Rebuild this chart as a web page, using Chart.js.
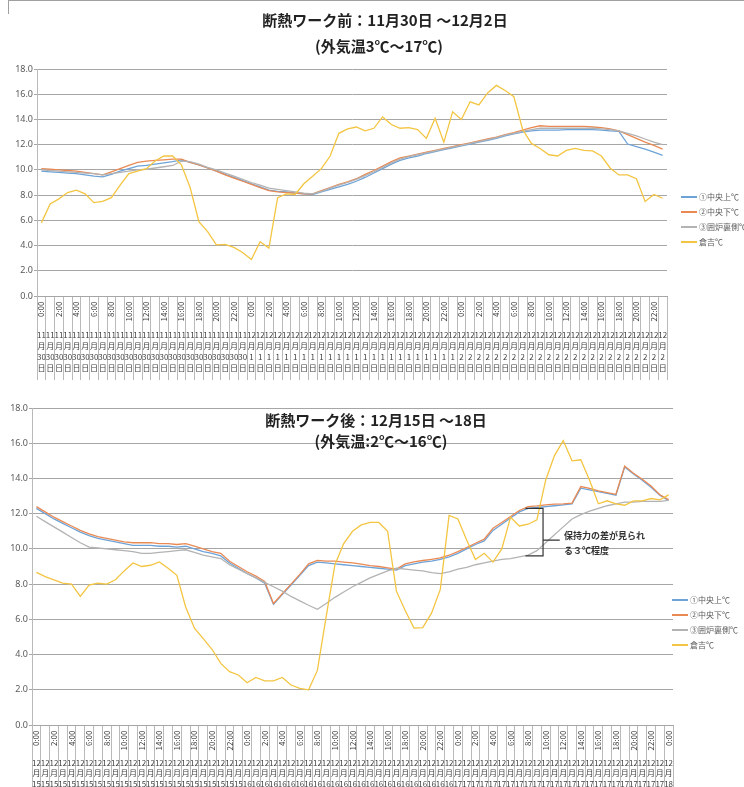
<!DOCTYPE html>
<html>
<head>
<meta charset="utf-8">
<script src="https://cdn.jsdelivr.net/npm/chart.js@4.4.0/dist/chart.umd.min.js"></script>
<style>
  html, body { margin:0; padding:0; background:#fff; overflow:hidden; width:744px; height:787px; }
  body { position:relative; font-family:"Noto Sans CJK JP", "Noto Sans", sans-serif; }
  canvas { position:absolute; left:0; }
  .title { position:absolute; font-weight:bold; font-size:15px; line-height:15px; color:#222; white-space:nowrap; transform:translateX(-50%); }
  .legend { position:absolute; font-size:8px; color:#595959; }
  .legend div { height:15px; display:flex; align-items:center; white-space:nowrap; }
  .legend span { display:inline-block; width:16px; height:2px; margin-right:2px; }
  .note { position:absolute; font-size:9px; line-height:9px; font-weight:bold; color:#333; white-space:nowrap; }
  .frame { position:absolute; border-color:#a0a0a0; border-style:solid; border-width:0; }
</style>
</head>
<body>
<div class="frame" style="left:8px;top:0;width:736px;height:13px;border-top-width:1px;border-left-width:1px;"></div>

<canvas id="before" width="744" height="390" style="top:0"></canvas>
<canvas id="after" width="744" height="425" style="top:390px"></canvas>

<div class="title" style="left:385px;top:12px">断熱ワーク前：11月30日 ～12月2日</div>
<div class="title" style="left:379px;top:38px">(外気温3℃～17℃)</div>
<div class="title" style="left:376px;top:412px">断熱ワーク後：12月15日 ～18日</div>
<div class="title" style="left:381px;top:433px">(外気温:2℃～16℃)</div>

<div class="legend" id="legendBefore" style="left:681px;top:189px"></div>
<div class="legend" id="legendAfter" style="left:672px;top:592px"></div>

<div class="note" style="left:564px;top:531px">保持力の差が見られ</div>
<div class="note" style="left:564px;top:546px">る３℃程度</div>

<script>
// 共通
const hours = ['0:00','1:00','2:00','3:00','4:00','5:00','6:00','7:00','8:00','9:00','10:00','11:00',
  '12:00','13:00','14:00','15:00','16:00','17:00','18:00','19:00','20:00','21:00','22:00','23:00'];
const seriesNames = ['①中央上℃', '②中央下℃', '③囲炉裏側℃', '倉吉℃'];
const seriesColors = ['#6ea3d8', '#e98a55', '#b3b3b3', '#f4c542'];

// 断熱ワーク前 11/30 0:00 ～ 12/2 23:00
const beforeDays = ['11月30日', '12月1日', '12月2日'];
const beforeTop = [9.9,9.85,9.8,9.75,9.7,9.6,9.5,9.45,9.65,9.9,
  10.1,10.3,10.35,10.45,10.55,10.65,10.8,10.6,10.4,10.15,
  9.9,9.65,9.4,9.15,8.9,8.65,8.4,8.3,8.25,8.15,
  8.1,8.05,8.25,8.45,8.65,8.85,9.1,9.4,9.75,10.1,
  10.45,10.75,10.95,11.1,11.3,11.45,11.6,11.75,11.9,12.05,
  12.2,12.35,12.5,12.7,12.85,13.0,13.1,13.15,13.15,13.15,
  13.2,13.2,13.2,13.2,13.15,13.1,13.05,12.05,11.85,11.65,
  11.4,11.15];
const beforeLow = [10.1,10.05,10.0,9.95,9.9,9.8,9.7,9.6,9.85,10.1,
  10.35,10.6,10.7,10.75,10.8,10.85,10.85,10.6,10.4,10.15,
  9.9,9.6,9.35,9.1,8.85,8.6,8.35,8.25,8.2,8.15,
  8.1,8.1,8.35,8.6,8.85,9.05,9.3,9.65,9.95,10.3,
  10.65,10.95,11.1,11.25,11.4,11.55,11.7,11.85,12.0,12.15,
  12.3,12.45,12.6,12.8,12.95,13.15,13.35,13.5,13.45,13.45,
  13.45,13.45,13.45,13.4,13.35,13.25,13.1,12.8,12.5,12.2,
  11.95,11.65];
const beforeIrori = [10.0,9.95,9.9,9.85,9.8,9.75,9.7,9.6,9.7,9.8,
  9.9,10.0,10.05,10.15,10.25,10.35,10.7,10.65,10.45,10.2,
  10.0,9.75,9.5,9.25,9.0,8.8,8.55,8.45,8.35,8.25,
  8.15,8.1,8.3,8.55,8.8,9.0,9.25,9.55,9.85,10.2,
  10.55,10.85,11.05,11.2,11.35,11.5,11.65,11.8,11.95,12.1,
  12.25,12.4,12.55,12.75,12.9,13.05,13.2,13.3,13.3,13.3,
  13.3,13.3,13.3,13.3,13.25,13.2,13.1,12.9,12.7,12.45,
  12.2,12.0];
const beforeOutside = [5.8,7.3,7.7,8.2,8.4,8.1,7.4,7.5,7.8,8.8,
  9.7,9.9,10.1,10.7,11.1,11.1,10.4,8.6,5.9,5.1,
  4.05,4.1,3.85,3.45,2.9,4.3,3.8,7.8,8.1,8.05,
  8.9,9.5,10.1,11.1,12.9,13.25,13.4,13.1,13.3,14.2,
  13.6,13.3,13.35,13.2,12.5,14.1,12.2,14.6,14.0,15.4,
  15.15,16.1,16.7,16.3,15.8,13.2,12.1,11.7,11.2,11.1,
  11.55,11.7,11.55,11.5,11.1,10.15,9.6,9.6,9.3,7.5,
  8.05,7.75];

// 断熱ワーク後 12/15 0:00 ～ 12/18 0:00
const afterDays = ['12月15日', '12月16日', '12月17日', '12月18日'];
const afterHoursPerDay = [24, 24, 24, 1];
const afterTop = [12.3,12.0,11.7,11.45,11.2,10.95,10.75,10.6,10.5,10.4,
  10.3,10.2,10.2,10.2,10.15,10.15,10.1,10.15,10.0,9.85,
  9.75,9.6,9.2,8.9,8.6,8.35,8.05,6.85,7.4,7.95,
  8.5,9.05,9.25,9.2,9.15,9.1,9.05,9.0,8.95,8.9,
  8.85,8.8,9.05,9.15,9.25,9.3,9.4,9.55,9.75,10.0,
  10.25,10.45,11.05,11.4,11.75,12.1,12.3,12.35,12.4,12.45,
  12.5,12.55,13.45,13.35,13.25,13.15,13.05,14.65,14.25,13.9,
  13.5,13.05,12.75];
const afterLow = [12.4,12.1,11.8,11.55,11.3,11.05,10.85,10.7,10.6,10.5,
  10.4,10.35,10.35,10.35,10.3,10.3,10.25,10.3,10.15,10.0,
  9.85,9.75,9.3,9.0,8.7,8.45,8.15,6.9,7.45,8.0,
  8.55,9.15,9.35,9.3,9.3,9.25,9.2,9.13,9.05,9.0,
  8.92,8.85,9.15,9.26,9.34,9.41,9.49,9.64,9.85,10.08,
  10.32,10.55,11.17,11.5,11.84,12.18,12.4,12.44,12.5,12.54,
  12.56,12.6,13.54,13.43,13.3,13.2,13.1,14.7,14.3,13.95,
  13.57,13.07,12.8];
const afterIrori = [11.85,11.55,11.25,10.95,10.65,10.35,10.1,10.05,10.0,9.95,
  9.9,9.85,9.75,9.75,9.8,9.85,9.9,9.95,9.8,9.65,
  9.55,9.45,9.1,8.85,8.6,8.35,8.1,7.85,7.6,7.3,
  7.05,6.8,6.57,6.9,7.25,7.55,7.85,8.1,8.35,8.55,
  8.75,8.9,8.85,8.8,8.75,8.65,8.6,8.7,8.85,8.95,
  9.1,9.2,9.3,9.4,9.45,9.55,9.65,9.9,10.35,10.8,
  11.25,11.7,11.95,12.15,12.3,12.45,12.55,12.65,12.65,12.7,
  12.7,12.7,12.75];
const afterOutside = [8.67,8.43,8.24,8.05,8.0,7.3,7.95,8.05,8.0,8.25,
  8.75,9.2,9.0,9.07,9.26,8.9,8.5,6.7,5.5,4.9,
  4.3,3.5,3.03,2.84,2.4,2.7,2.5,2.5,2.7,2.27,
  2.08,2.0,3.1,6.15,9.1,10.3,11.0,11.36,11.5,11.5,
  11.0,7.6,6.5,5.5,5.53,6.35,7.7,11.9,11.7,10.5,
  9.4,9.75,9.25,10.0,11.8,11.3,11.4,11.65,13.9,15.3,
  16.15,15.0,15.06,13.9,12.56,12.73,12.56,12.48,12.73,12.73,
  12.86,12.78,13.07];

// 注記（保持力の差）: カテゴリ位置と温度
const bracketFrom = 55.7, bracketTo = 57.7, bracketLead = 59.6;
const bracketHigh = 12.3, bracketLow = 9.6, bracketMid = 10.5;

function buildLabels(days, counts) {
  const h = [], d = [];
  days.forEach((day, k) => {
    for (let i = 0; i < counts[k]; i++) { h.push(hours[i]); d.push(day); }
  });
  return { h, d };
}

function splitDate(s) {
  return s.match(/(\d+)(月)(\d+)(日)/).slice(1);
}

function makeChart(id, o) {
  const sets = o.series.map((data, k) => ({
    label: seriesNames[k],
    data: data,
    borderColor: seriesColors[k],
    backgroundColor: seriesColors[k],
    borderWidth: 1.3,
    pointRadius: 0,
    tension: 0,
    order: 4 - k
  }));
  return new Chart(document.getElementById(id), {
    type: 'line',
    data: { labels: o.labels.h, datasets: sets },
    options: {
      responsive: false,
      animation: false,
      layout: { padding: { left: 0, top: o.top, right: o.right, bottom: o.bottom } },
      plugins: { legend: { display: false }, tooltip: { enabled: false } },
      scales: {
        x: {
          type: 'category',
          offset: true,
          weight: 0,
          grid: { offset: true, drawOnChartArea: false, tickLength: o.hourH, color: '#b9b9b9' },
          border: { color: '#a6a6a6' },
          ticks: {
            autoSkip: false, minRotation: 90, maxRotation: 90,
            padding: 5.5 - o.hourH,
            font: { size: 8, family: '"Noto Sans CJK JP", sans-serif' },
            color: '#404040',
            callback: (v, i) => (i % 2 === 0 ? o.labels.h[i] : '')
          },
          afterFit: s => { s.height = o.hourH; }
        },
        x2: {
          type: 'category',
          labels: o.labels.d,
          position: 'bottom',
          offset: true,
          weight: 1,
          grid: { offset: true, drawOnChartArea: false, tickLength: o.dateH, color: '#b9b9b9' },
          border: { display: false },
          ticks: {
            autoSkip: false, minRotation: 0, maxRotation: 0,
            padding: o.datePad - o.dateH,
            font: { size: 8, lineHeight: o.lh + 'px', family: '"Noto Sans CJK JP", sans-serif' },
            color: '#404040',
            callback: (v, i) => splitDate(o.labels.d[i])
          },
          afterFit: s => { s.height = o.dateH; }
        },
        y: {
          min: 0, max: 18,
          grid: { color: '#a6a6a6', tickLength: 3 },
          border: { color: '#b9b9b9' },
          ticks: {
            stepSize: 2, padding: 1,
            font: { size: 9, family: '"Noto Sans", sans-serif' },
            color: '#595959',
            callback: v => v.toFixed(1)
          },
          afterFit: s => { s.width = o.left; }
        }
      }
    },
    plugins: o.plugins || []
  });
}

const bracketPlugin = {
  id: 'bracket',
  afterDatasetsDraw(chart) {
    const x = chart.scales.x, y = chart.scales.y, ctx = chart.ctx;
    const xa = x.getPixelForValue(bracketFrom), xb = x.getPixelForValue(bracketTo), xc = x.getPixelForValue(bracketLead);
    const yt = y.getPixelForValue(bracketHigh), yb = y.getPixelForValue(bracketLow), ym = y.getPixelForValue(bracketMid);
    ctx.save();
    ctx.strokeStyle = '#333';
    ctx.lineWidth = 1.2;
    ctx.beginPath();
    ctx.moveTo(xa, yt); ctx.lineTo(xb, yt); ctx.lineTo(xb, yb); ctx.lineTo(xa, yb);
    ctx.moveTo(xb, ym); ctx.lineTo(xc, ym);
    ctx.stroke();
    ctx.restore();
  }
};

makeChart('before', {
  labels: buildLabels(beforeDays, [24, 24, 24]),
  series: [beforeTop, beforeLow, beforeIrori, beforeOutside],
  left: 37, top: 69, right: 77, bottom: 10,
  hourH: 30, dateH: 54, datePad: 3, lh: 11
});

makeChart('after', {
  labels: buildLabels(afterDays, afterHoursPerDay),
  series: [afterTop, afterLow, afterIrori, afterOutside],
  left: 32, top: 18, right: 71, bottom: 0,
  hourH: 30, dateH: 60, datePad: 2.5, lh: 10.5,
  plugins: [bracketPlugin]
});

function fillLegend(id) {
  const box = document.getElementById(id);
  seriesNames.forEach((name, k) => {
    const row = document.createElement('div');
    const line = document.createElement('span');
    line.style.background = seriesColors[k];
    row.appendChild(line);
    row.appendChild(document.createTextNode(name));
    box.appendChild(row);
  });
}
fillLegend('legendBefore');
fillLegend('legendAfter');
</script>
</body>
</html>
